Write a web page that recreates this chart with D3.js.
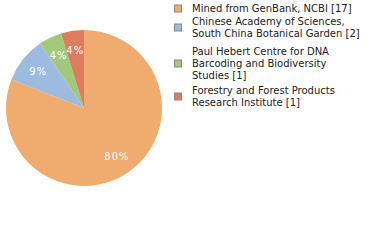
<!DOCTYPE html>
<html>
<head>
<meta charset="utf-8">
<script src="https://cdn.jsdelivr.net/npm/d3@7"></script>
<style>
  body { margin: 0; background: #fff; }
  svg { display: block; font-family: "DejaVu Sans", Verdana, sans-serif; }
</style>
</head>
<body>
<svg id="chart" width="380" height="240"></svg>
<script>
// data
const categories = [
    ["Mined from GenBank, NCBI [17]"],
    ["Chinese Academy of Sciences,", "South China Botanical Garden [2]"],
    ["Paul Hebert Centre for DNA", "Barcoding and Biodiversity", "Studies [1]"],
    ["Forestry and Forest Products", "Research Institute [1]"]
];
const counts = [17, 2, 1, 1];
const pctLabels = ["80%", "9%", "4%", "4%"];
const colors = ["#efac6e", "#9dbbe0", "#a2c87b", "#e07c5e"];

const svg = d3.select('#chart');
const cx = 84, cy = 108, radius = 78;

const g = svg.append('g').attr('transform', `translate(${cx},${cy})`);

const pie = d3.pie().sort(null).value(d => d);
const arcs = pie(counts);
const arc = d3.arc().innerRadius(0).outerRadius(radius);
const labelArc = d3.arc().innerRadius(radius * 0.75).outerRadius(radius * 0.75);

g.selectAll('path')
    .data(arcs)
    .enter().append('path')
    .attr('d', arc)
    .attr('fill', (d, i) => colors[i]);

g.selectAll('text')
    .data(arcs)
    .enter().append('text')
    .attr('transform', d => `translate(${labelArc.centroid(d)})`)
    .attr('text-anchor', 'middle')
    .attr('dy', '0.35em')
    .attr('fill', '#fff')
    .style('font-size', '10px')
    .style('letter-spacing', '1px')
    .text((d, i) => pctLabels[i]);

// legend - baseline of the first line of each item
const legendTop = [12, 25, 55, 94];
const lineH = 12;
const legend = svg.append('g').attr('transform', 'translate(174,0)');
categories.forEach((lines, i) => {
    const item = legend.append('g');
    const y0 = legendTop[i];
    // square centred on the text block (cap-height middle is ~3.5px above baseline)
    const mid = y0 + (lines.length - 1) * lineH / 2 - 3.5;
    item.append('rect')
        .attr('x', 0.5)
        .attr('y', mid - 3.5)
        .attr('width', 7)
        .attr('height', 7)
        .attr('fill', colors[i])
        .attr('stroke', '#888')
        .attr('stroke-width', 1);
    lines.forEach((t, j) => {
        item.append('text')
            .attr('x', 18)
            .attr('y', y0 + j * lineH)
            .attr('fill', '#222')
            .style('font-size', '10px')
            .text(t);
    });
});
</script>
</body>
</html>
